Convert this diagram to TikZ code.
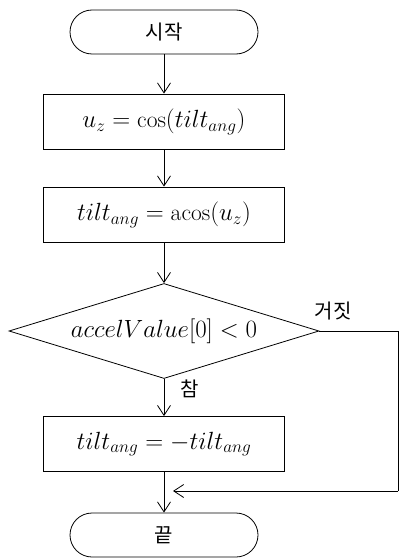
\documentclass[tikz,border=0pt]{standalone}
\usepackage{fontspec}
\newfontfamily\kor{Noto Sans CJK KR}
\usetikzlibrary{shapes.geometric,arrows.meta}
\begin{document}
\begin{tikzpicture}[x=1pt,y=1pt,
  line width=0.8pt,
  every node/.style={font=\fontsize{23.5}{27}\selectfont},
  terminal/.style={draw, rectangle, rounded corners=22pt, minimum width=188pt, minimum height=44pt, inner sep=0pt},
  procbox/.style={draw, rectangle, minimum width=241pt, minimum height=55pt, inner sep=0pt},
  decision/.style={draw, diamond, aspect=3.26, minimum width=310pt, minimum height=95pt, inner sep=0pt},
  kortext/.style={font=\kor\fontsize{20}{24}\selectfont},
  lbl/.style={kortext, inner sep=0pt},
  arr/.style={-{Straight Barb[length=10pt,width=13pt,line width=0.8pt]}}]
\useasboundingbox (0,0) rectangle (399,-559);

\node[terminal, kortext] (start) at (164,-32) {시작};
\node[procbox] (b1) at (164,-121.5) {$u_z = \cos(tilt_{ang})$};
\node[procbox] (b2) at (164,-214.5) {$tilt_{ang} = \mathrm{acos}(u_z)$};
\node[decision] (dec) at (164,-331) {$accelValue[0] < 0$};
\node[procbox] (b3) at (164,-444) {$tilt_{ang} = -tilt_{ang}$};
\node[terminal, kortext] (end) at (164,-535) {끝};

\node[lbl] (no) at (333,-311) {거짓};
\node[lbl] (yes) at (190,-389) {참};

\coordinate (c1) at (398,-331);
\coordinate (c2) at (398,-491);
\coordinate (join) at (173,-491);

\draw[arr] (start) -- (b1);
\draw[arr] (b1) -- (b2);
\draw[arr] (b2) -- (dec);
\draw[arr] (dec) -- (b3);
\draw[arr] (b3) -- (end);
\draw (dec.east) -- (c1) -- (c2);
\draw[arr] (c2) -- (join);
\end{tikzpicture}
\end{document}
